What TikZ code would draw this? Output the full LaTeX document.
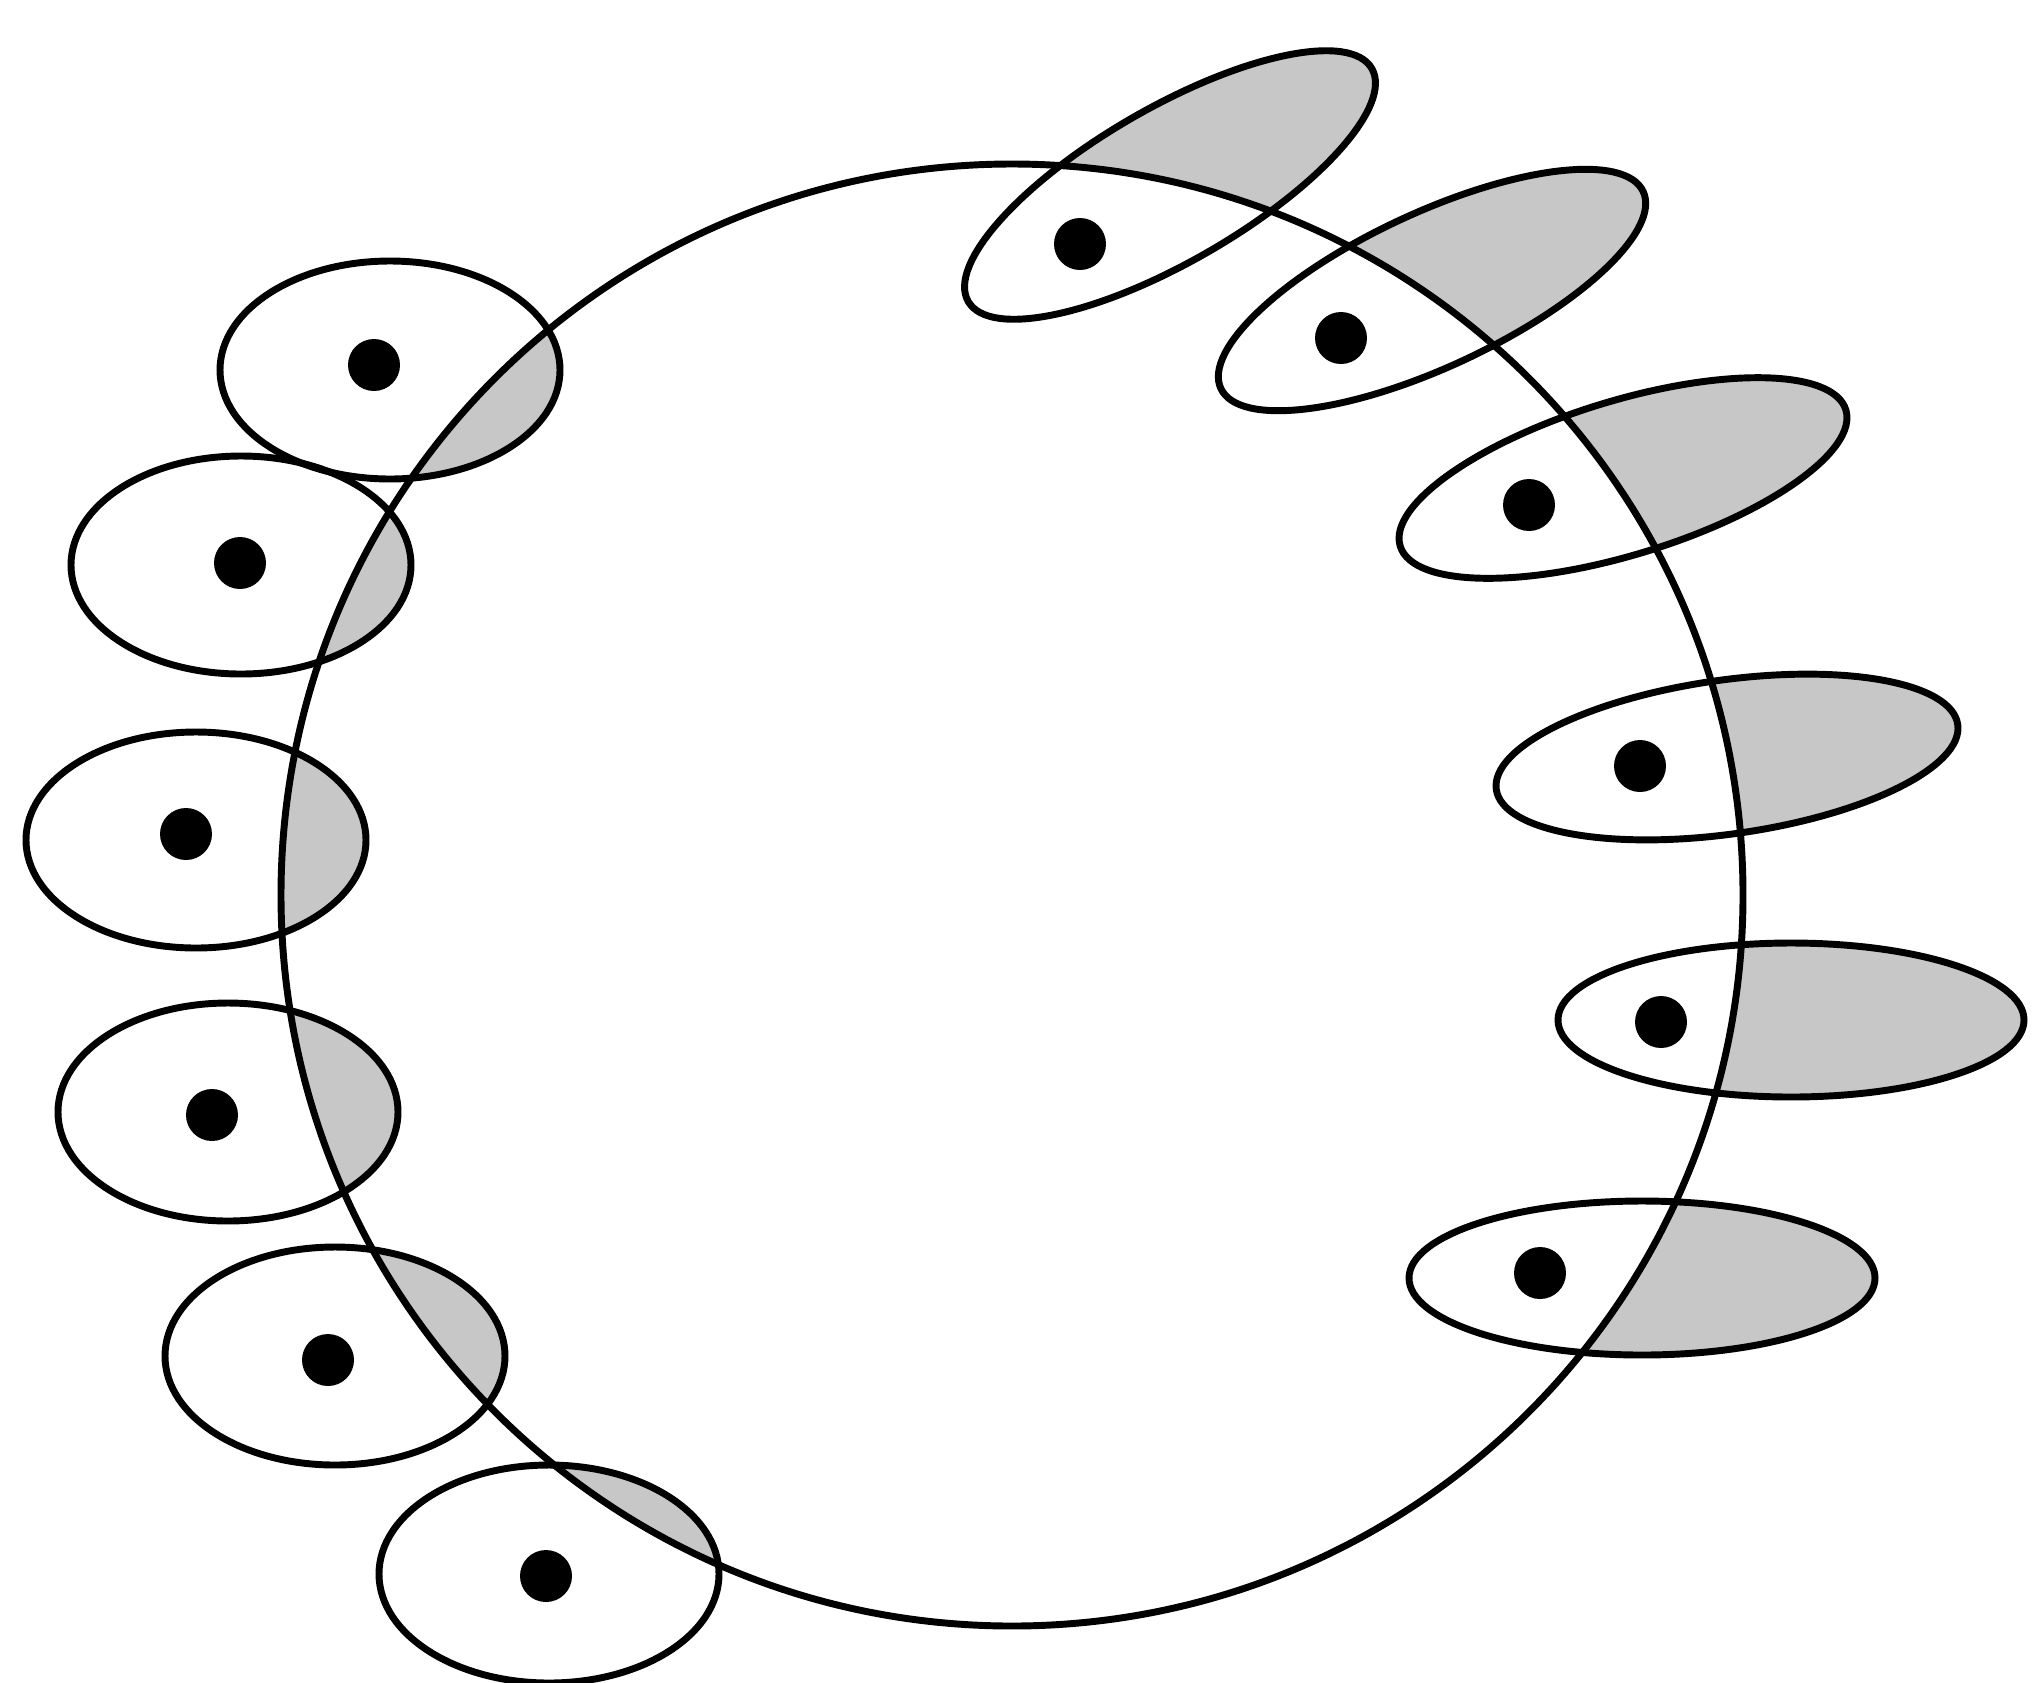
\documentclass[tikz,border=0pt]{standalone}
\begin{document}
\begin{tikzpicture}[x=0.75pt,y=0.75pt,yscale=-1,xscale=1,
    outline/.style={line width=5.2pt},
    shade/.style={fill=black!22},
    spot/.style={fill=black}]
\useasboundingbox (0,0) rectangle (2033,1682);

%Shaded parts (right side, outside the ring)
    \fill [shade, rotate around={-30:(1170,185)}] (1170,185) ellipse (233 and 77);
    \fill [shade, rotate around={-25:(1432,290)}] (1432,290) ellipse (233 and 77);
    \fill [shade, rotate around={-17:(1623,478)}] (1623,478) ellipse (233 and 77);
    \fill [shade, rotate around={-8:(1727,757)}] (1727,757) ellipse (233 and 77);
    \fill [shade] (1791,1020) ellipse (233 and 77);
    \fill [shade] (1642,1278) ellipse (233 and 77);
    \fill [white] (1012,895) circle (731);
%Shaded parts (left side, inside the ring)
  \begin{scope}
    \clip (1012,895) circle (731);
    \fill [shade] (390,370) ellipse (170 and 109);
    \fill [shade] (241,565) ellipse (170 and 109);
    \fill [shade] (196,840) ellipse (170 and 108);
    \fill [shade] (228,1112) ellipse (170 and 109);
    \fill [shade] (335,1356) ellipse (170 and 109);
    \fill [shade] (549,1574) ellipse (170 and 109);
  \end{scope}

%Shape: Circle
    \draw [outline] (1012,895) circle (731);
%Shape: Ellipse (left)
    \draw [outline] (390,370) ellipse (170 and 109);
    \draw [outline] (241,565) ellipse (170 and 109);
    \draw [outline] (196,840) ellipse (170 and 108);
    \draw [outline] (228,1112) ellipse (170 and 109);
    \draw [outline] (335,1356) ellipse (170 and 109);
    \draw [outline] (549,1574) ellipse (170 and 109);
%Shape: Ellipse (right)
    \draw [outline, rotate around={-30:(1170,185)}] (1170,185) ellipse (233 and 77);
    \draw [outline, rotate around={-25:(1432,290)}] (1432,290) ellipse (233 and 77);
    \draw [outline, rotate around={-17:(1623,478)}] (1623,478) ellipse (233 and 77);
    \draw [outline, rotate around={-8:(1727,757)}] (1727,757) ellipse (233 and 77);
    \draw [outline] (1791,1020) ellipse (233 and 77);
    \draw [outline] (1642,1278) ellipse (233 and 77);

%Dots
    \fill [spot] (374,365) circle (26);
    \fill [spot] (240,563) circle (26);
    \fill [spot] (186,834) circle (26);
    \fill [spot] (212,1115) circle (26);
    \fill [spot] (328,1360) circle (26);
    \fill [spot] (546,1576) circle (26);
    \fill [spot] (1080,244) circle (26);
    \fill [spot] (1341,338) circle (26);
    \fill [spot] (1529,505) circle (26);
    \fill [spot] (1640,766) circle (26);
    \fill [spot] (1661,1022) circle (26);
    \fill [spot] (1540,1273) circle (26);
\end{tikzpicture}
\end{document}
